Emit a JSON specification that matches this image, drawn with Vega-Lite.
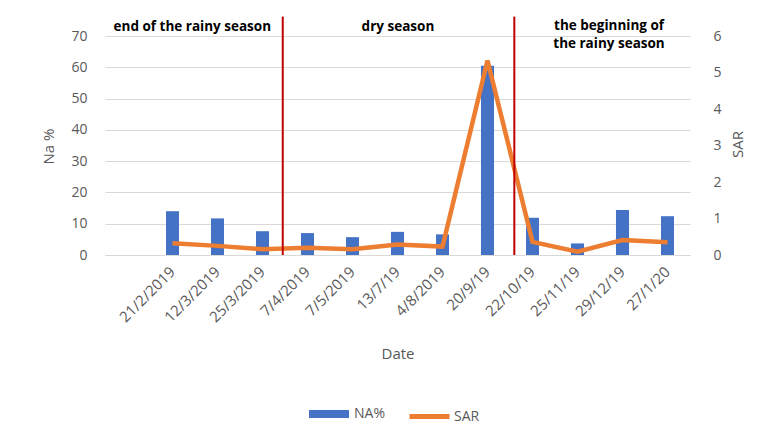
{
  "$schema": "https://vega.github.io/schema/vega-lite/v6.json",
  "width": 585,
  "height": 219,
  "autosize": {"type": "none"},
  "padding": {"left": 105, "top": 36, "right": 74, "bottom": 168},
  "background": "white",
  "config": {
    "view": {"stroke": null},
    "font": "Open Sans",
    "axis": {"labelColor": "#595959", "titleColor": "#595959", "labelFont": "Open Sans", "titleFont": "Open Sans", "titleFontWeight": "normal"},
    "legend": {"labelColor": "#595959", "labelFont": "Open Sans", "labelFontSize": 14, "padding": 0}
  },
  "datasets": {
    "main": [
      {"Date": "21/2/2019", "na": 14.0, "sar": 0.32},
      {"Date": "12/3/2019", "na": 11.7, "sar": 0.25},
      {"Date": "25/3/2019", "na": 7.6, "sar": 0.16},
      {"Date": "7/4/2019", "na": 7.0, "sar": 0.2},
      {"Date": "7/5/2019", "na": 5.7, "sar": 0.16},
      {"Date": "13/7/19", "na": 7.4, "sar": 0.29},
      {"Date": "4/8/2019", "na": 6.6, "sar": 0.23},
      {"Date": "20/9/19", "na": 60.5, "sar": 5.33},
      {"Date": "22/10/19", "na": 11.9, "sar": 0.36},
      {"Date": "25/11/19", "na": 3.7, "sar": 0.09},
      {"Date": "29/12/19", "na": 14.4, "sar": 0.41},
      {"Date": "27/1/20", "na": 12.4, "sar": 0.35}
    ]
  },
  "layer": [
    {
      "data": {"name": "main"},
      "mark": {"type": "bar", "width": {"band": 0.29}},
      "encoding": {
        "x": {
          "field": "Date", "type": "nominal", "title": "Date",
          "scale": {"domain": ["", "21/2/2019", "12/3/2019", "25/3/2019", "7/4/2019", "7/5/2019", "13/7/19", "4/8/2019", "20/9/19", "22/10/19", "25/11/19", "29/12/19", "27/1/20"], "paddingInner": 0, "paddingOuter": 0},
          "axis": {"labelAngle": -45, "labelAlign": "right", "labelBaseline": "middle", "labelPadding": 14, "labelFontSize": 15, "ticks": false, "domain": true, "domainColor": "#d9d9d9", "titleFontSize": 15, "titleY": 98, "titleBaseline": "middle"}
        },
        "y": {
          "field": "na", "type": "quantitative", "title": "Na %",
          "scale": {"domain": [0, 70]},
          "axis": {"values": [0, 10, 20, 30, 40, 50, 60, 70], "grid": true, "gridColor": "#d9d9d9", "domain": false, "ticks": false, "labelPadding": 18, "labelFontSize": 14, "titleFontSize": 15, "titleX": -57, "titleY": 110, "titleAngle": 270, "titleBaseline": "middle", "titleAlign": "center"}
        },
        "fill": {
          "datum": "NA%",
          "scale": {"domain": ["NA%"], "range": ["#4472C4"]},
          "legend": {"title": null, "orient": "none", "legendX": 204, "legendY": 358, "labelOffset": 5, "symbolType": "M-1,-0.2H1V0.2H-1Z", "symbolSize": 1600, "symbolStrokeWidth": 0, "symbolOpacity": 1}
        }
      }
    },
    {
      "data": {"name": "main"},
      "mark": {"type": "line", "strokeWidth": 4.5},
      "encoding": {
        "x": {"field": "Date", "type": "nominal", "title": "Date"},
        "y": {
          "field": "sar", "type": "quantitative", "title": "SAR",
          "scale": {"domain": [0, 6]},
          "axis": {"orient": "right", "values": [0, 1, 2, 3, 4, 5, 6], "grid": false, "domain": false, "ticks": false, "labelPadding": 23, "labelFontSize": 14, "titleFontSize": 15, "titleX": 47, "titleY": 108, "titleAngle": 270, "titleBaseline": "middle", "titleAlign": "center"}
        },
        "stroke": {
          "datum": "SAR",
          "scale": {"domain": ["SAR"], "range": ["#ED7D31"]},
          "legend": {"title": null, "orient": "none", "legendX": 302, "legendY": 358, "labelOffset": 2, "symbolType": "stroke", "symbolSize": 1600, "symbolStrokeWidth": 5}
        }
      }
    },
    {
      "data": {"values": [{"Date": "25/3/2019"}]},
      "mark": {"type": "rule", "color": "#C00000", "strokeWidth": 2},
      "encoding": {
        "x": {"field": "Date", "type": "nominal", "title": "Date", "bandPosition": 0.95},
        "y": {"datum": 0, "type": "quantitative", "scale": {"domain": [0, 70]}, "axis": null},
        "y2": {"datum": 76.2}
      }
    },
    {
      "data": {"values": [{"Date": "22/10/19"}]},
      "mark": {"type": "rule", "color": "#C00000", "strokeWidth": 2},
      "encoding": {
        "x": {"field": "Date", "type": "nominal", "title": "Date", "bandPosition": 0.096},
        "y": {"datum": 0, "type": "quantitative", "scale": {"domain": [0, 70]}, "axis": null},
        "y2": {"datum": 76.2}
      }
    },
    {
      "data": {"values": [{"Date": "21/2/2019", "label": "end of the rainy season", "level": 72.9}]},
      "mark": {"type": "text", "fontWeight": "bold", "fontSize": 13.5, "color": "black", "font": "Open Sans"},
      "encoding": {
        "x": {"field": "Date", "type": "nominal", "title": "Date", "bandPosition": 0.94},
        "y": {"field": "level", "type": "quantitative", "scale": {"domain": [0, 70]}, "axis": null},
        "text": {"field": "label"}
      }
    },
    {
      "data": {"values": [{"Date": "13/7/19", "label": "dry season", "level": 72.9}]},
      "mark": {"type": "text", "fontWeight": "bold", "fontSize": 13.5, "color": "black", "font": "Open Sans"},
      "encoding": {
        "x": {"field": "Date", "type": "nominal", "title": "Date", "bandPosition": 0.51},
        "y": {"field": "level", "type": "quantitative", "scale": {"domain": [0, 70]}, "axis": null},
        "text": {"field": "label"}
      }
    },
    {
      "data": {"values": [{"Date": "29/12/19", "label": "the beginning of", "level": 73.1}, {"Date": "29/12/19", "label": "the rainy season", "level": 67.4}]},
      "mark": {"type": "text", "fontWeight": "bold", "fontSize": 13.5, "color": "black", "font": "Open Sans"},
      "encoding": {
        "x": {"field": "Date", "type": "nominal", "title": "Date", "bandPosition": 0.2},
        "y": {"field": "level", "type": "quantitative", "scale": {"domain": [0, 70]}, "axis": null},
        "text": {"field": "label"}
      }
    }
  ],
  "resolve": {"scale": {"y": "independent", "fill": "independent", "stroke": "independent"}}
}
